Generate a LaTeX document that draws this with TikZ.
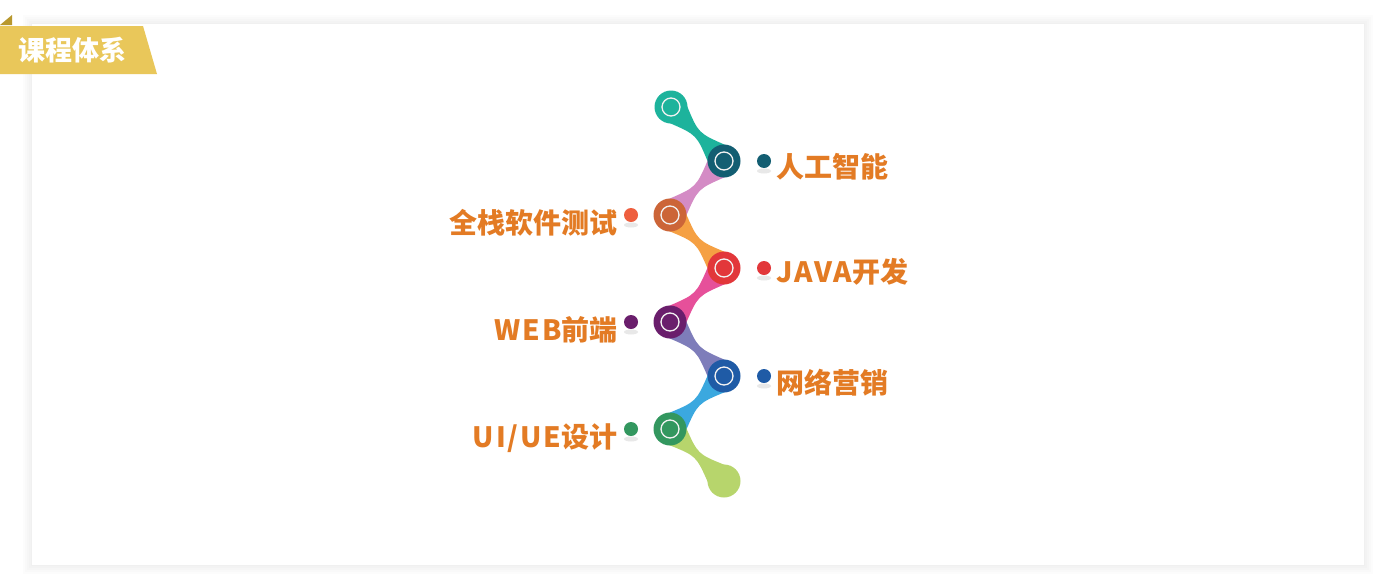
\documentclass[tikz,border=0pt]{standalone}
\usepackage{fontspec}
\newfontfamily\cjk{Noto Sans CJK SC}
\usetikzlibrary{positioning,calc}

\definecolor{lblorange}{HTML}{E37B24}
\definecolor{bannergold}{HTML}{E9C75A}
\definecolor{foldgold}{HTML}{B8982E}
\definecolor{topteal}{HTML}{1DB39C}
\definecolor{aiteal}{HTML}{135E72}
\definecolor{testorange}{HTML}{CC6538}
\definecolor{testdot}{HTML}{EE5E3E}
\definecolor{javared}{HTML}{E2373A}
\definecolor{webpurple}{HTML}{6A1E6C}
\definecolor{mktblue}{HTML}{1F5BA6}
\definecolor{uigreen}{HTML}{33975F}
\definecolor{endgreen}{HTML}{B7D56C}
\definecolor{necklilac}{HTML}{D48BC5}
\definecolor{neckorange}{HTML}{F5A043}
\definecolor{neckpink}{HTML}{E6509A}
\definecolor{neckviolet}{HTML}{7E7DBA}
\definecolor{neckcyan}{HTML}{3BA8DF}

% wider latin letters in the labels
\newcommand\latin[1]{{\addfontfeatures{LetterSpace=7}#1}}

% neck between two balls: from ball #1 to ball #2, colour #3
\newcommand\neck[3]{%
  \path ($(#1)!0.5!(#2)$) coordinate (mid);
  \fill[#3] ($(#1)!16pt!50:(#2)$) .. controls ($(mid)!1.2pt!90:(#2)$) and ($(mid)!1.2pt!90:(#2)$) .. ($(#2)!16pt!-50:(#1)$)
    -- ($(#2)!16pt!50:(#1)$) .. controls ($(mid)!1.2pt!-90:(#2)$) and ($(mid)!1.2pt!-90:(#2)$) .. ($(#1)!16pt!-50:(#2)$) -- cycle;
}

\begin{document}
\begin{tikzpicture}[x=1pt,y=-1pt,
  font=\cjk\bfseries,
  ball/.style={circle, minimum size=33pt, inner sep=0pt, fill=#1},
  ring/.style={draw=white!90!gray, line width=1.3pt},
  dot/.style={circle, minimum size=14pt, inner sep=0pt, fill=#1},
  shade/.style={fill=gray!30, opacity=0.6},
  lbl/.style={text=lblorange, inner sep=0pt, font=\cjk\bfseries\fontsize{28}{28}\selectfont},
]
\useasboundingbox (0,0) rectangle (1399,584);
\fill[white] (0,0) rectangle (1399,584);

% card with soft shadow
\foreach \s in {9,7,5,3,1}
  \fill[black, opacity=0.013] (32-\s,24-\s) rectangle (1364+\s,565+\s);
\fill[white] (32,24) rectangle (1364,565);

% banner
\fill[foldgold] (0,25) -- (12,25) -- (12,15) -- cycle;
\fill[bannergold] (0,26) -- (143,26) -- (157,74) -- (0,74) -- cycle;
\node[text=white, font=\cjk\bfseries\fontsize{27}{27}\selectfont, inner sep=0pt] (title) at (72,50) {课程体系};

% balls
\coordinate (c0) at (671,107);
\coordinate (c1) at (724,161);
\coordinate (c2) at (670,215);
\coordinate (c3) at (724,268);
\coordinate (c4) at (670,322);
\coordinate (c5) at (724,376);
\coordinate (c6) at (670,429);
\coordinate (c7) at (724,481);

\neck{c0}{c1}{topteal}
\neck{c1}{c2}{necklilac}
\neck{c2}{c3}{neckorange}
\neck{c3}{c4}{neckpink}
\neck{c4}{c5}{neckviolet}
\neck{c5}{c6}{neckcyan}
\neck{c6}{c7}{endgreen}

\node[ball=topteal] (b0) at (c0) {};
\node[ball=aiteal] (b1) at (c1) {};
\node[ball=testorange] (b2) at (c2) {};
\node[ball=javared] (b3) at (c3) {};
\node[ball=webpurple] (b4) at (c4) {};
\node[ball=mktblue] (b5) at (c5) {};
\node[ball=uigreen] (b6) at (c6) {};
\node[ball=endgreen] (b7) at (c7) {};
\foreach \i in {0,...,6}
  \draw[ring] (c\i) circle (9pt);

% side dots
\foreach \n/\x/\y/\c in {d1/764/161/aiteal, d2/631/215/testdot, d3/764/268/javared,
    d4/631/322/webpurple, d5/764/376/mktblue, d6/631/429/uigreen} {
  \fill[shade] (\x,\y+10) ellipse (7pt and 2.5pt);
  \node[dot=\c] (\n) at (\x,\y) {};
}

% labels
\node[lbl, right=5pt of d1, yshift=-6pt] (l1) {人工智能};
\node[lbl, left=6pt of d2, yshift=-8pt] (l2) {全栈软件测试};
\node[lbl, right=5pt of d3, yshift=-4pt] (l3) {\latin{JAVA}开发};
\node[lbl, left=6pt of d4, yshift=-8pt] (l4) {\latin{WEB}前端};
\node[lbl, right=5pt of d5, yshift=-7pt] (l5) {网络营销};
\node[lbl, left=6pt of d6, yshift=-9pt] (l6) {\latin{UI/UE}设计};

\end{tikzpicture}
\end{document}
